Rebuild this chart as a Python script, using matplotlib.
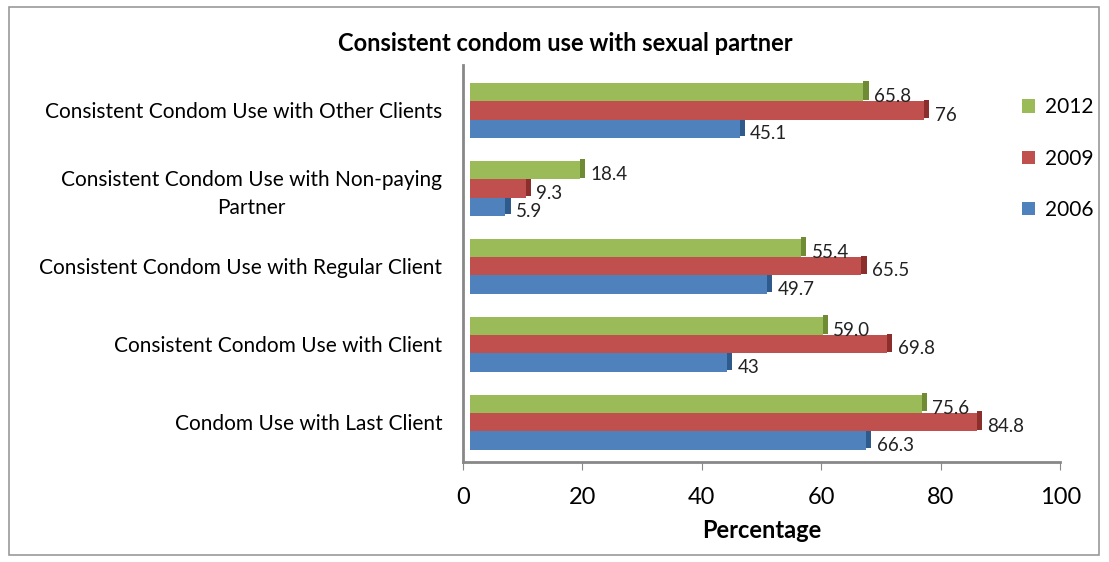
import numpy as np
import matplotlib.pyplot as plt
from matplotlib.patches import Rectangle

plt.rcParams['font.family'] = ['Lato', 'DejaVu Sans']

# Data (bottom to top)
categories = ['Condom Use with Last Client',
              'Consistent Condom Use with Client',
              'Consistent Condom Use with Regular Client',
              'Consistent Condom Use with Non-paying\nPartner',
              'Consistent Condom Use with Other Clients']
years = ['2006', '2009', '2012']
vals_2006 = [66.3, 43, 49.7, 5.9, 45.1]
vals_2009 = [84.8, 69.8, 65.5, 9.3, 76]
vals_2012 = [75.6, 59.0, 55.4, 18.4, 65.8]
lbl_2006 = ['66.3', '43', '49.7', '5.9', '45.1']
lbl_2009 = ['84.8', '69.8', '65.5', '9.3', '76']
lbl_2012 = ['75.6', '59.0', '55.4', '18.4', '65.8']

colors = {'2006': '#4F81BD', '2009': '#C0504D', '2012': '#9BBB59'}
darks = {'2006': '#2F5A8C', '2009': '#8C2F2C', '2012': '#6F8C35'}

fig = plt.figure(figsize=(11.09, 5.62), dpi=100)
fig.patches.append(Rectangle((0.008, 0.013), 0.983, 0.975, transform=fig.transFigure,
                             fill=False, edgecolor='#9a9a9a', linewidth=1.2))
ax = fig.add_axes([0.4175, 0.178, 0.5385, 0.706])

y = np.arange(len(categories))
h = 0.235
series = [('2006', vals_2006, lbl_2006, -h),
          ('2009', vals_2009, lbl_2009, 0),
          ('2012', vals_2012, lbl_2012, h)]

for name, vals, lbls, off in series:
    ax.barh(y + off, vals, height=h, left=1.2, color=colors[name], label=name, zorder=3)
    # darker end face to fake the 3D look
    ax.barh(y + off + 0.02, 0.9, height=h, left=np.array(vals) + 1.2,
            color=darks[name], zorder=2)
    for yi, v, t in zip(y + off, vals, lbls):
        ax.text(v + 3.0, yi - 0.06, t, va='center', ha='left', fontsize=13.5,
                color='#222222', zorder=4)

ax.set_xlim(0, 100)
ax.set_ylim(-0.51, 4.58)
ax.set_xticks([0, 20, 40, 60, 80, 100])
ax.tick_params(axis='x', labelsize=17, length=6, color='#888888', pad=12)
ax.set_yticks(y)
ax.set_yticklabels(categories, fontsize=15, linespacing=1.5, multialignment='center')
ax.tick_params(axis='y', length=0, pad=15)
ax.set_xlabel('Percentage', fontsize=17, fontweight='bold', labelpad=8)

for s in ['top', 'right']:
    ax.spines[s].set_visible(False)
ax.spines['left'].set_color('#888888')
ax.spines['left'].set_linewidth(2)
ax.spines['bottom'].set_color('#888888')
ax.spines['bottom'].set_linewidth(2)

fig.text(0.51, 0.91, 'Consistent condom use with sexual partner', ha='center',
         fontsize=17, fontweight='bold')

handles, labels = ax.get_legend_handles_labels()
fig.legend(handles[::-1], labels[::-1], loc='upper left', bbox_to_anchor=(0.905, 0.86),
           frameon=False, fontsize=15, handlelength=0.6, handleheight=0.6,
           labelspacing=1.5, handletextpad=0.5)

fig.savefig('out.png', dpi=100)
